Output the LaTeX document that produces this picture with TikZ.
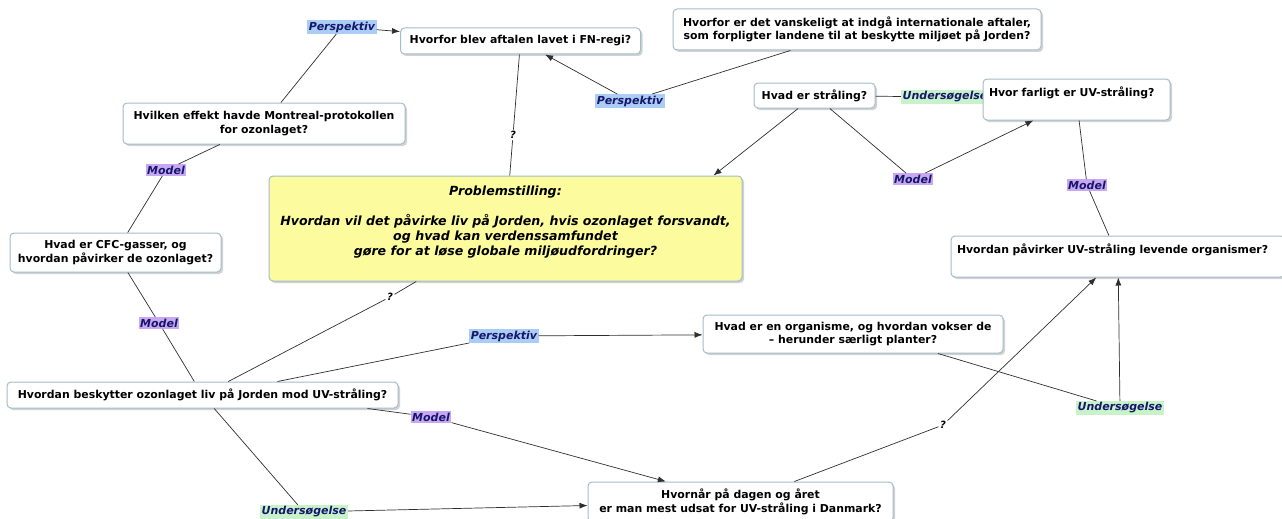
\documentclass[tikz,border=0pt]{standalone}
\usepackage{fontspec}
\setmainfont{DejaVu Sans}
\usetikzlibrary{arrows.meta,shadows}

\definecolor{boxline}{HTML}{A3BCC9}
\definecolor{perspbg}{HTML}{A9CDF5}
\definecolor{modelbg}{HTML}{C8A8F3}
\definecolor{undersbg}{HTML}{C8F2CA}
\definecolor{probbg}{HTML}{FCFC9E}
\definecolor{linktext}{HTML}{16166A}
\definecolor{wirecol}{HTML}{2E2E2E}

\begin{document}
\begin{tikzpicture}[x=1pt,y=-1pt,
  question/.style={draw=boxline,line width=1pt,fill=white,rounded corners=4pt,align=center,
    font=\fontsize{10.9}{13.5}\selectfont\bfseries,inner xsep=6pt,inner ysep=4pt,
    drop shadow={shadow xshift=2pt,shadow yshift=-2pt,fill=black!35,opacity=.5}},
  problem/.style={question,fill=probbg,font=\fontsize{12.6}{15}\selectfont\bfseries\itshape},
  linkword/.style={inner xsep=1.5pt,inner ysep=1.5pt,text=linktext,
    font=\fontsize{11}{12}\selectfont\bfseries\itshape},
  persp/.style={linkword,fill=perspbg},
  model/.style={linkword,fill=modelbg},
  unders/.style={linkword,fill=undersbg},
  qmark/.style={inner sep=1.5pt,font=\fontsize{10}{10}\selectfont\bfseries\itshape},
  wire/.style={draw=wirecol,line width=0.7pt},
  arrow/.style={wire,-{Latex[length=8pt,width=6pt]}}]

  \useasboundingbox (0,0) rectangle (1282,519);

  % link words (unders1 sits behind the box "farligt")
  \node[unders] (unders1) at (945,97) {Undersøgelse};

  % questions, top row
  \node[question,minimum width=240pt,minimum height=26pt] (fnregi) at (520.5,41) {Hvorfor blev aftalen lavet i FN-regi?};
  \node[question,inner xsep=2pt,minimum width=368pt,minimum height=41pt] (svaert) at (857,29.5) {Hvorfor er det vanskeligt at indgå internationale aftaler,\\ som forpligter landene til at beskytte miljøet på Jorden?};
  \node[question,minimum width=282pt,minimum height=41pt] (montreal) at (264,123.5) {Hvilken effekt havde Montreal-protokollen\\ for ozonlaget?};
  \node[question,minimum width=121pt,minimum height=25pt] (straaling) at (814.5,95.5) {Hvad er stråling?};
  \node[question,text width=175pt,align=left,text depth=16pt,minimum height=41pt] (farligt) at (1076.5,99.5) {Hvor farligt er UV-stråling?};

  % middle
  \node[problem,minimum width=473pt,minimum height=105pt] (problem) at (505.5,228.5) {Problemstilling:\\[15pt] Hvordan vil det påvirke liv på Jorden, hvis ozonlaget forsvandt,\\ og hvad kan verdenssamfundet\\ gøre for at løse globale miljøudfordringer?\\\mbox{}};
  \node[question,minimum width=211pt,minimum height=39pt] (cfc) at (115.5,252.5) {Hvad er CFC-gasser, og\\ hvordan påvirker de ozonlaget?};
  \node[question,text width=322pt,align=left,text depth=16pt,minimum height=41pt] (paavirker) at (1118,256.5) {Hvordan påvirker UV-stråling levende organismer?};

  % bottom row
  \node[question,minimum width=300pt,minimum height=38pt] (organisme) at (853,334) {Hvad er en organisme, og hvordan vokser de\\ – herunder særligt planter?};
  \node[question,minimum width=391pt,minimum height=26pt] (beskytter) at (202.5,395) {Hvordan beskytter ozonlaget liv på Jorden mod UV-stråling?};
  \node[question,minimum width=305pt,minimum height=40pt] (hvornaar) at (740.5,502) {Hvornår på dagen og året\\ er man mest udsat for UV-stråling i Danmark?};

  % link words
  \node[persp] (persp1) at (342,27) {Perspektiv};
  \node[persp] (persp2) at (630,101) {Perspektiv};
  \node[persp] (persp3) at (504,336) {Perspektiv};
  \node[model] (model1) at (166,170) {Model};
  \node[model] (model2) at (159,323) {Model};
  \node[model] (model3) at (913,179) {Model};
  \node[model] (model4) at (1087,185) {Model};
  \node[model] (model5) at (431,417) {Model};
  \node[unders] (unders2) at (1120,408) {Undersøgelse};
  \node[unders] (unders3) at (304,512) {Undersøgelse};
  \node[qmark] (q1) at (513,135) {?};
  \node[qmark] (q2) at (390,297) {?};
  \node[qmark] (q3) at (943,425) {?};


  % Perspektiv
  \draw[wire] (montreal) -- (persp1);
  \draw[arrow] (persp1) -- (fnregi);
  \draw[wire] (svaert) -- (persp2);
  \draw[arrow] (persp2) -- (fnregi);
  \draw[wire] ([xshift=75pt]beskytter.north) -- (persp3);
  \draw[arrow] (persp3) -- (organisme);

  % Model
  \draw[wire] (montreal) -- (model1);
  \draw[wire] (model1) -- (cfc);
  \draw[wire] (cfc) -- (model2);
  \draw[wire] (model2) -- (beskytter);
  \draw[wire] (straaling) -- (model3);
  \draw[arrow] (model3) -- (farligt);
  \draw[wire] (farligt) -- (model4);
  \draw[wire] (model4) -- (paavirker);
  \draw[wire] ([xshift=-31pt]beskytter.south east) -- (model5);
  \draw[arrow] (model5) -- (hvornaar);

  % Undersøgelse
  \draw[wire] (straaling) -- (unders1);
  \draw[wire] (beskytter) -- (unders3);
  \draw[arrow] (unders3) -- (hvornaar);
  \draw[wire] ([xshift=85pt]organisme.south) -- (unders2);
  \draw[arrow] (unders2) -- (paavirker);

  % open questions
  \draw[wire] (fnregi) -- (q1);
  \draw[wire] (q1) -- (problem);
  \draw[wire] (beskytter) -- (q2);
  \draw[wire] (q2) -- (problem);
  \draw[wire] (hvornaar) -- (q3);
  \draw[arrow] (q3) -- (paavirker);
  \draw[arrow] (straaling) -- ([xshift=-29pt]problem.north east);
\end{tikzpicture}
\end{document}
